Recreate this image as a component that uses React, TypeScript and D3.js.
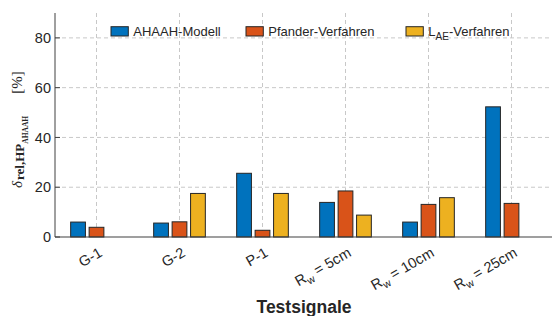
import React from "react";
import * as d3 from "d3";

const categories = ["G-1", "G-2", "P-1", "R5", "R10", "R25"];
const seriesNames = ["AHAAH-Modell", "Pfander-Verfahren", "LAE-Verfahren"];
const ahaah = [6.0, 5.6, 25.6, 13.9, 6.0, 52.3];
const pfander = [3.9, 6.1, 2.7, 18.5, 13.1, 13.5];
const lae = [0, 17.5, 17.5, 8.8, 15.8, 0];
const yTicks = [0, 20, 40, 60, 80];
const colors = ["#0072BD", "#D95319", "#EDB120"];

const W = 552, H = 316;
const left = 55, right = 553, top = 13, bottom = 237;

function TickLabel({ c }: { c: string }) {
  if (c.startsWith("R")) {
    const num = c.slice(1);
    return (
      <>
        R<tspan dy="4" fontSize="10.5">w</tspan>
        <tspan dy="-4"> = {num}cm</tspan>
      </>
    );
  }
  return <>{c}</>;
}

export default function App() {
  const x = d3.scaleBand<string>().domain(categories).range([left, right]).padding(0);
  const y = d3.scaleLinear().domain([0, 90]).range([bottom, top]);
  const series = [ahaah, pfander, lae];
  const step = x.step();
  const slot = (step * 0.667) / 3;
  const bw = slot * 0.8;
  const font = "Helvetica, Arial, 'Liberation Sans', sans-serif";
  const cx = (c: string) => (x(c) as number) + step / 2;

  return (
    <svg width={W} height={H} style={{ position: "absolute", left: 0, top: 0 }} fontFamily={font}>
      <rect width={W} height={H} fill="#fff" />
      {/* grid */}
      {yTicks.filter((t) => t > 0).map((t) => (
        <line key={"gy" + t} x1={left} x2={W} y1={y(t)} y2={y(t)} stroke="#c8c8c8" strokeDasharray="4,3" strokeWidth={1} />
      ))}
      {categories.map((c) => (
        <line key={"gx" + c} x1={cx(c)} x2={cx(c)} y1={top} y2={bottom} stroke="#c8c8c8" strokeDasharray="4,3" strokeWidth={1} />
      ))}
      {/* x ticks */}
      {categories.map((c) => (
        <line key={"tx" + c} x1={cx(c)} x2={cx(c)} y1={bottom} y2={bottom - 5} stroke="#404040" />
      ))}
      {/* bars */}
      {series.map((s, si) =>
        s.map((v, i) =>
          v > 0 ? (
            <rect
              key={si + "-" + i}
              x={cx(categories[i]) + (si - 1) * slot - bw / 2}
              y={y(v)}
              width={bw}
              height={y(0) - y(v)}
              fill={colors[si]}
              stroke="#262626"
              strokeWidth={1}
            />
          ) : null
        )
      )}
      {/* axes */}
      <line x1={left} x2={left} y1={top} y2={bottom} stroke="#404040" strokeWidth={1} />
      <line x1={left} x2={W} y1={bottom} y2={bottom} stroke="#404040" strokeWidth={1.2} />
      {yTicks.map((t) => (
        <g key={"yt" + t}>
          <line x1={left} x2={left + 5} y1={y(t)} y2={y(t)} stroke="#404040" />
          <text x={left - 4} y={y(t)} dy="0.36em" textAnchor="end" fontSize={14.5} fill="#262626">
            {t}
          </text>
        </g>
      ))}
      {categories.map((c) => (
        <text
          key={"xl" + c}
          transform={`translate(${cx(c) + 4},${bottom + 14}) rotate(-30)`}
          textAnchor="end"
          dy="0.36em"
          fontSize={14.5}
          fill="#262626"
        >
          <TickLabel c={c} />
        </text>
      ))}
      <text x={304} y={313} textAnchor="middle" fontSize={17.5} fontWeight="bold" fill="#262626">
        Testsignale
      </text>
      {/* y label */}
      <text
        transform={`rotate(-90)`}
        x={-188}
        y={22}
        fontFamily="'Liberation Serif', 'DejaVu Serif', serif"
        fontSize={15}
        fill="#262626"
      >
        <tspan fontStyle="italic">δ</tspan>
        <tspan dy="2" dx="1" fontSize={13} fontWeight="bold">rel,HP</tspan>
        <tspan dy="4" fontSize={7.5} fontWeight="bold">AHAAH</tspan>
        <tspan dy="-6" dx="22" fontSize={15}>[%]</tspan>
      </text>
      {/* legend */}
      {[111, 246, 406].map((lx, i) => (
        <g key={"lg" + i}>
          <rect x={lx} y={26.7} width={17.3} height={9.3} fill={colors[i]} stroke="#262626" strokeWidth={1} />
          <text x={lx + 22.3} y={35.5} fontSize={13} fill="#262626">
            {i === 2 ? (
              <>
                L<tspan dy="4" fontSize={10}>AE</tspan>
                <tspan dy="-4">-Verfahren</tspan>
              </>
            ) : (
              seriesNames[i]
            )}
          </text>
        </g>
      ))}
    </svg>
  );
}
